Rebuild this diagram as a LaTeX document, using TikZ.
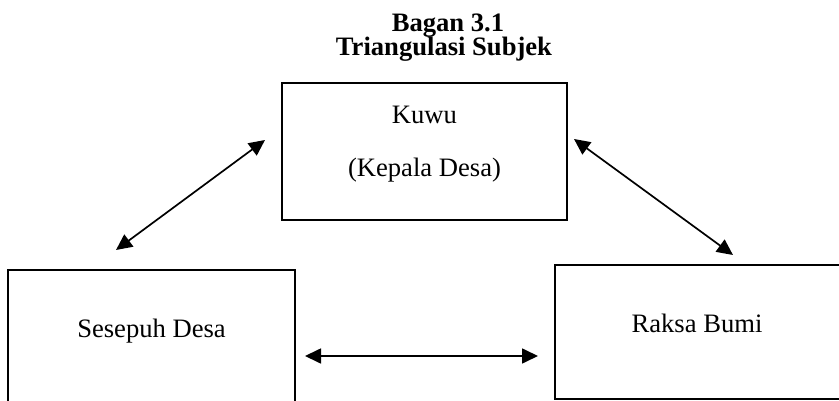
\documentclass[tikz,border=0pt]{standalone}
\usepackage{fontspec}
\setmainfont{Liberation Serif}
\usetikzlibrary{arrows.meta}
\begin{document}
\begin{tikzpicture}[x=1pt,y=-1pt,
  box/.style={draw,line width=2pt,inner sep=0pt,rectangle},
  lbl/.style={anchor=base,inner sep=0pt,font=\fontsize{26.6}{32}\selectfont},
  ttl/.style={anchor=base,inner sep=0pt,font=\fontsize{26.6}{32}\selectfont\bfseries},
  link/.style={line width=1.7pt,{Triangle[length=16pt,width=15pt]}-{Triangle[length=16pt,width=15pt]}}]
\useasboundingbox (0,0) rectangle (839,401);
\clip (0,0) rectangle (839,401);
\fill[white] (0,0) rectangle (839,401);
% title
\node[ttl] (t1) at (448,32) {Bagan 3.1};
\node[ttl] (t2) at (444,56) {Triangulasi Subjek};
% boxes
\node[box,minimum width=285pt,minimum height=137pt] (kuwu) at (424.5,151.5) {};
\node[box,minimum width=287pt,minimum height=200pt] (sesepuh) at (151.5,370) {};
\node[box,minimum width=405pt,minimum height=134pt] (raksa) at (757.5,332) {};
% texts
\node[lbl] (k1) at (424.5,124) {Kuwu};
\node[lbl] (k2) at (424.5,177) {(Kepala Desa)};
\node[lbl] (s1) at (151.5,337) {Sesepuh Desa};
\node[lbl] (r1) at (697,332) {Raksa Bumi};
% connector ends
\coordinate (a1) at (265,140);
\coordinate (a2) at (116,250);
\coordinate (b1) at (574,139);
\coordinate (b2) at (733,255);
\coordinate (c1) at (305,356);
\coordinate (c2) at (538,356);
\draw[link] (a1) -- (a2);
\draw[link] (b1) -- (b2);
\draw[link] (c1) -- (c2);
\end{tikzpicture}
\end{document}
